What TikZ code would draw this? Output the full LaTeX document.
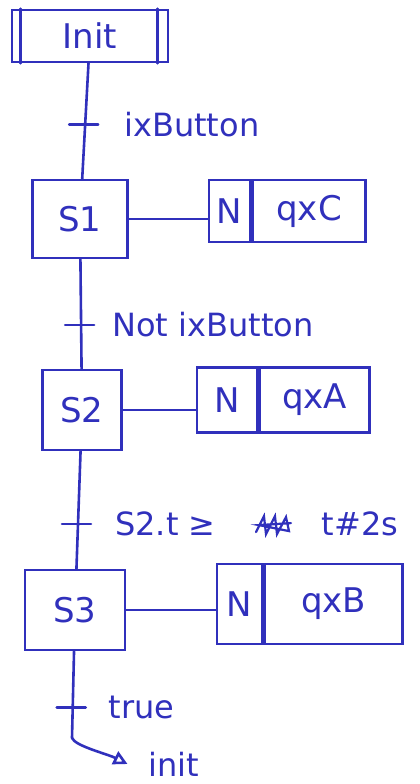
\documentclass[tikz,border=0pt]{standalone}
\usepackage{fontspec}
\setmainfont{DejaVu Sans}
\usepackage{tikz}
\usetikzlibrary{positioning,arrows.meta,calc}
\definecolor{inkblue}{RGB}{48,48,188}

\begin{document}
\begin{tikzpicture}[
  x=1pt, y=-1pt,
  ink/.style={draw=inkblue, line width=2.6pt, line cap=round},
  stepbox/.style={rectangle, ink, text=inkblue, inner sep=0pt,
                  font=\fontsize{34}{40}\selectfont},
  qualbox/.style={rectangle, ink, text=inkblue, inner sep=0pt,
                  font=\fontsize{34}{40}\selectfont},
  actbox/.style={rectangle, ink, text=inkblue, inner sep=0pt,
                 font=\fontsize{34}{40}\selectfont},
  cond/.style={text=inkblue, inner sep=1pt, font=\fontsize{32}{38}\selectfont},
  link/.style={ink},
  jump/.style={ink, -{Triangle[open, length=14pt, width=14pt]}}
]
  \useasboundingbox (0,0) rectangle (420,784);

  % steps
  \node[stepbox, minimum width=156pt, minimum height=52pt] (init) at (90,36) {Init};
  \node[stepbox, minimum width=95pt, minimum height=78pt] (s1) at (80,219) {S1};
  \node[stepbox, minimum width=79pt, minimum height=80pt] (s2) at (82,410) {S2};
  \node[stepbox, minimum width=100pt, minimum height=80pt] (s3) at (75,610) {S3};

  % initial step gets the inner bars
  \draw[ink] ([xshift=10pt]init.north west) -- ([xshift=10pt]init.south west);
  \draw[ink] ([xshift=-12pt]init.north east) -- ([xshift=-12pt]init.south east);

  % actions
  \node[qualbox, minimum width=41pt, minimum height=62pt] (q1) at (229.5,211) {N};
  \node[actbox, minimum width=113pt, minimum height=62pt, right=0pt of q1] (a1) {qxC};
  \node[qualbox, minimum width=60pt, minimum height=65pt] (q2) at (227,400) {N};
  \node[actbox, minimum width=110pt, minimum height=65pt, right=0pt of q2] (a2) {qxA};
  \node[qualbox, minimum width=45pt, minimum height=80pt] (q3) at (239.5,604) {N};
  \node[actbox, minimum width=138pt, minimum height=80pt, right=0pt of q3] (a3) {qxB};

  \draw[link] (s1.east) -- (s1.east -| q1.west);
  \draw[link] (s2.east) -- (s2.east -| q2.west);
  \draw[link] (s3.east) -- (s3.east -| q3.west);

  % transitions
  \coordinate (t4end) at (72,738);
  \draw[link] (init) -- coordinate[pos=0.53] (t1) (s1);
  \draw[link] (s1) -- coordinate[pos=0.6] (t2) (s2);
  \draw[link] (s2) -- coordinate[pos=0.62] (t3) (s3);
  \draw[link] (s3) -- coordinate[pos=0.65] (t4) (t4end);
  \foreach \t in {t1,t2,t3,t4}
    \draw[ink] ([xshift=-16pt]\t) -- ([xshift=13pt]\t);

  \node[cond, anchor=west, right=38pt of t1] (c1) {ixButton};
  \node[cond, anchor=west, right=30pt of t2] (c2) {Not ixButton};
  \node[cond, anchor=west, right=36pt of t3] (c3) {S2.t ≥};
  \node[cond, anchor=west, right=104pt of c3.east] (c3b) {t\#2s};
  \node[cond, anchor=west, right=35pt of t4] (c4) {true};

  % crossed out
  \draw[ink, line width=2.2pt] ($(c3.east)!0.55!(c3b.west)$) ++(-18,8)
    -- ++(8,-16) -- ++(2,18) -- ++(9,-18) -- ++(2,18) -- ++(9,-17) -- ++(3,14)
    -- ++(-30,-6) -- ++(32,-2);

  % jump back
  \node[cond] (jmp) at (174,764) {init};
  \draw[jump] (t4end) .. controls +(3,8) and +(-20,-10) .. ([xshift=-20pt]jmp.west);
\end{tikzpicture}
\end{document}
